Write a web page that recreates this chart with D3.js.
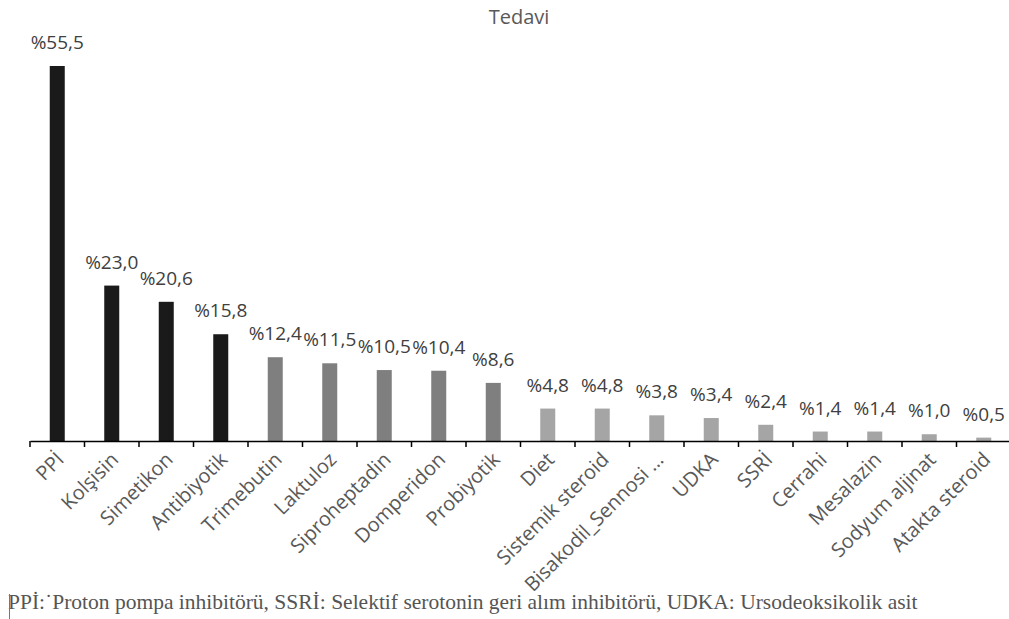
<!DOCTYPE html>
<html>
<head>
<meta charset="utf-8">
<script src="https://cdn.jsdelivr.net/npm/d3@7"></script>
<style>
  body { margin: 0; background: #fff; }
  svg { display: block; }
</style>
</head>
<body>
<svg id="chart" width="1009" height="619"></svg>
<script>
const categories = ['PPİ', 'Kolşisin', 'Simetikon', 'Antibiyotik', 'Trimebutin', 'Laktuloz',
    'Siproheptadin', 'Domperidon', 'Probiyotik', 'Diet', 'Sistemik steroid', 'Bisakodil_Sennosi …',
    'UDKA', 'SSRİ', 'Cerrahi', 'Mesalazin', 'Sodyum aljinat', 'Atakta steroid']
const values = [55.5, 23.0, 20.6, 15.8, 12.4, 11.5, 10.5, 10.4, 8.6, 4.8, 4.8, 3.8, 3.4, 2.4, 1.4, 1.4, 1.0, 0.5]
const groups = [0, 0, 0, 0, 1, 1, 1, 1, 1, 2, 2, 2, 2, 2, 2, 2, 2, 2]
const groupColors = ['#1a1a1a', '#7f7f7f', '#a5a5a5']
const title = 'Tedavi'
const footnote = 'PPİ:˙Proton pompa inhibitörü, SSRİ: Selektif serotonin geri alım inhibitörü, UDKA: Ursodeoksikolik asit'

const svg = d3.select('#chart')
const axisY = 441

const x = d3.scaleBand()
    .domain(categories)
    .range([30, 30 + 54.5 * categories.length])
    .padding(0)

const y = d3.scaleLinear()
    .domain([0, 60])
    .range([axisY, axisY - 60 * 6.757])

const data = categories.map((c, i) => ({ name: c, value: values[i], group: groups[i] }))
const barW = 15

// title
svg.append('text')
    .attr('x', 519)
    .attr('y', 24)
    .attr('text-anchor', 'middle')
    .attr('font-family', 'Open Sans, sans-serif')
    .attr('font-size', 20)
    .attr('fill', '#595959')
    .text(title)

// bars
svg.selectAll('rect.bar')
    .data(data)
    .join('rect')
    .attr('class', 'bar')
    .attr('x', d => x(d.name) + x.bandwidth() / 2 - barW / 2)
    .attr('y', d => y(d.value))
    .attr('width', barW)
    .attr('height', d => y(0) - y(d.value))
    .attr('fill', d => groupColors[d.group])

// value labels
svg.selectAll('text.val')
    .data(data)
    .join('text')
    .attr('class', 'val')
    .attr('x', d => x(d.name) + x.bandwidth() / 2)
    .attr('y', d => y(d.value) - 17)
    .attr('text-anchor', 'middle')
    .attr('font-family', 'Open Sans, sans-serif')
    .attr('font-size', 19)
    .attr('fill', '#404040')
    .text(d => '%' + d3.format('.1f')(d.value).replace('.', ','))

// x axis
const xAxis = d3.axisBottom(x).tickSize(0).tickFormat('')
const gx = svg.append('g')
    .attr('transform', `translate(0,${axisY})`)
    .call(xAxis)
gx.select('.domain').attr('stroke', '#000').attr('stroke-width', 1.5)

// ticks at band boundaries
const bounds = categories.map(c => x(c)).concat([x.range()[1]])
gx.selectAll('line.bt')
    .data(bounds)
    .join('line')
    .attr('class', 'bt')
    .attr('x1', d => d)
    .attr('x2', d => d)
    .attr('y1', 0)
    .attr('y2', 6)
    .attr('stroke', '#000')
    .attr('stroke-width', 1.5)

// category labels
svg.selectAll('text.cat')
    .data(data)
    .join('text')
    .attr('class', 'cat')
    .attr('transform', d => `translate(${x(d.name) + x.bandwidth() / 2 - 2},${axisY + 10}) rotate(-45)`)
    .attr('text-anchor', 'end')
    .attr('dy', '0.7em')
    .attr('font-family', 'Open Sans, sans-serif')
    .attr('font-size', 20)
    .attr('fill', '#595959')
    .text(d => d.name)

// footnote
svg.append('text')
    .attr('x', 8)
    .attr('y', 609)
    .attr('font-family', 'Liberation Serif, Times New Roman, serif')
    .attr('font-size', 21.5)
    .attr('fill', '#555')
    .text(footnote)
svg.append('line')
    .attr('x1', 9.5).attr('x2', 9.5)
    .attr('y1', 594).attr('y2', 619)
    .attr('stroke', '#777')
    .attr('stroke-width', 1)
</script>
</body>
</html>
